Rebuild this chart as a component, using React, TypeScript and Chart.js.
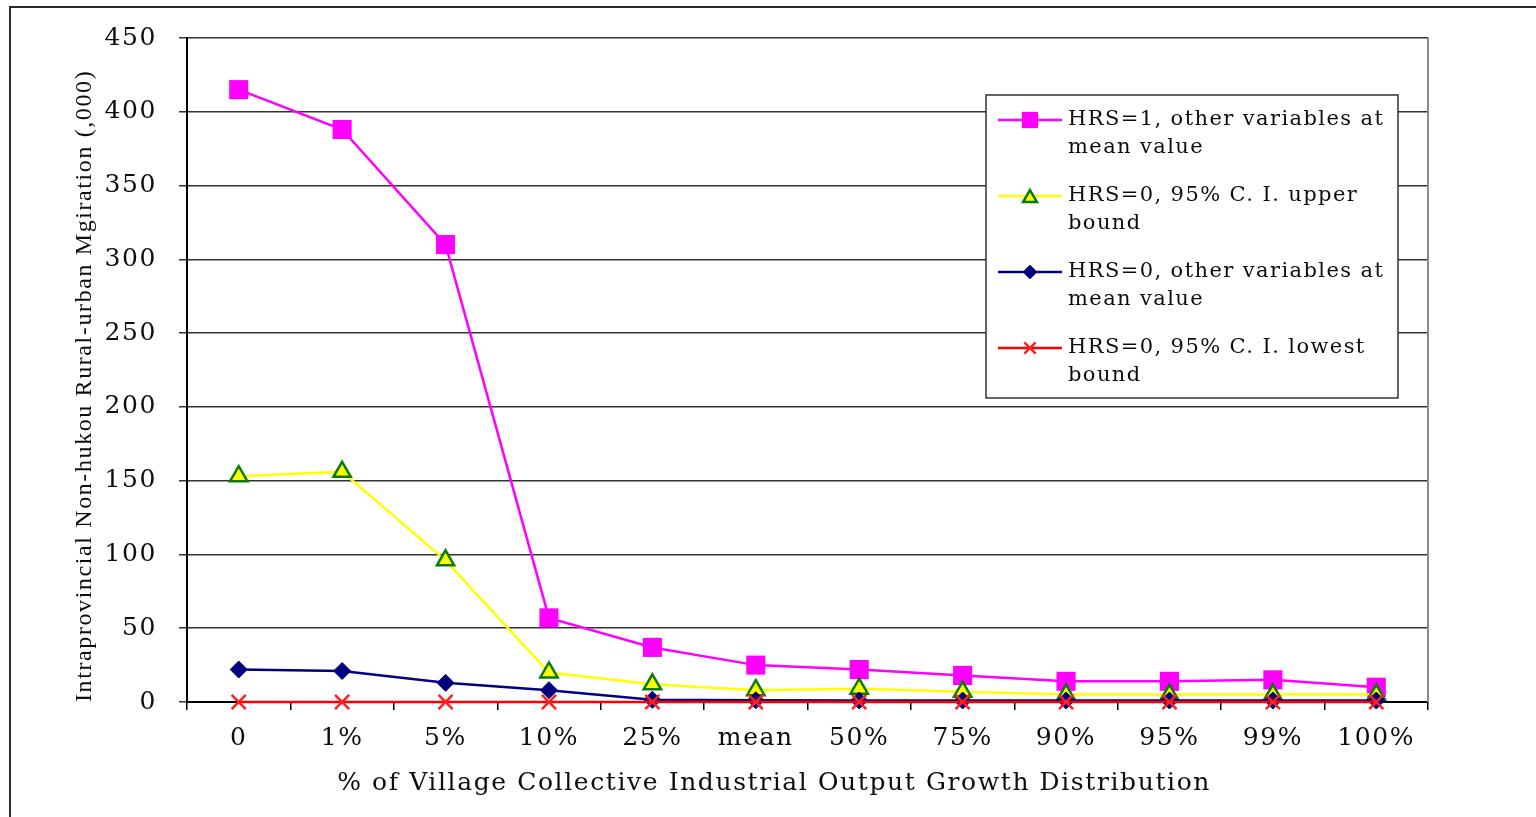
import React, { useEffect, useRef } from 'react';
import { Chart, registerables } from 'chart.js';

Chart.register(...registerables);

const categories = ['0', '1%', '5%', '10%', '25%', 'mean', '50%', '75%', '90%', '95%', '99%', '100%'];
const hrs1Mean = [415, 388, 310, 57, 37, 25, 22, 18, 14, 14, 15, 10];
const hrs0Upper = [153, 156, 96, 20, 12, 8, 9, 7, 5, 5, 5, 5];
const hrs0Mean = [22, 21, 13, 8, 1.5, 1.2, 1, 1, 1, 1, 1, 1];
const hrs0Lowest = [0, 0, 0, 0, 0, 0, 0, 0, 0, 0, 0, 0];
const yMin = 0;
const yMax = 450;
const yStep = 50;

const legendLabels = [
  ['HRS=1, other variables at', 'mean value'],
  ['HRS=0, 95% C. I. upper', 'bound'],
  ['HRS=0, other variables at', 'mean value'],
  ['HRS=0, 95% C. I. lowest', 'bound'],
];

const xTitle = '% of Village Collective Industrial Output Growth Distribution';
const yTitle = 'Intraprovincial Non-hukou Rural-urban Mgiration (,000)';

const SERIF_WIDE = "'DejaVu Serif', serif";
const SERIF = "'Liberation Serif', serif";
const TEXT = '#0d0d0d';

function drawMarker(ctx: CanvasRenderingContext2D, ds: any, x: number, y: number) {
  const style = ds.pointStyle;
  const r = ds.pointRadius;
  ctx.save();
  ctx.fillStyle = ds.pointBackgroundColor;
  ctx.strokeStyle = ds.pointBorderColor;
  ctx.lineWidth = ds.pointBorderWidth;
  ctx.beginPath();
  if (style === 'rect') {
    const s = Math.SQRT1_2 * r;
    ctx.rect(x - s, y - s, 2 * s, 2 * s);
    ctx.fill();
  } else if (style === 'triangle') {
    for (let i = 0; i < 3; i++) {
      const a = -Math.PI / 2 + (i * 2 * Math.PI) / 3;
      const px = x + Math.cos(a) * r;
      const py = y + Math.sin(a) * r + r * 0.25;
      if (i === 0) ctx.moveTo(px, py);
      else ctx.lineTo(px, py);
    }
    ctx.closePath();
    ctx.fill();
    ctx.stroke();
  } else if (style === 'rectRot') {
    ctx.moveTo(x, y - r);
    ctx.lineTo(x + r, y);
    ctx.lineTo(x, y + r);
    ctx.lineTo(x - r, y);
    ctx.closePath();
    ctx.fill();
    ctx.stroke();
  } else if (style === 'crossRot') {
    const s = Math.SQRT1_2 * r;
    ctx.moveTo(x - s, y - s);
    ctx.lineTo(x + s, y + s);
    ctx.moveTo(x + s, y - s);
    ctx.lineTo(x - s, y + s);
    ctx.stroke();
  }
  ctx.restore();
}

const framePlugin = {
  id: 'frameAndLegend',
  beforeDraw(chart: any) {
    (chart.ctx as any).letterSpacing = '1.6px';
  },
  afterDraw(chart: any) {
    const { ctx, chartArea } = chart;
    ctx.save();
    // right plot border
    ctx.strokeStyle = '#8a8a8a';
    ctx.lineWidth = 2;
    ctx.beginPath();
    ctx.moveTo(chartArea.right, chartArea.top);
    ctx.lineTo(chartArea.right, chartArea.bottom);
    ctx.stroke();

    // legend box
    const bx = 986, by = 95, bw = 412, bh = 303;
    ctx.fillStyle = '#ffffff';
    ctx.fillRect(bx, by, bw, bh);
    ctx.strokeStyle = '#333333';
    ctx.lineWidth = 1.5;
    ctx.strokeRect(bx, by, bw, bh);

    const datasets = chart.data.datasets;
    ctx.font = `21px ${SERIF_WIDE}`;
    (ctx as any).letterSpacing = '1.4px';
    ctx.textBaseline = 'middle';
    ctx.textAlign = 'left';
    legendLabels.forEach((lines, i) => {
      const ds = datasets[i];
      const cy = 120 + i * 76;
      ctx.strokeStyle = ds.borderColor;
      ctx.lineWidth = 2.5;
      ctx.beginPath();
      ctx.moveTo(998, cy);
      ctx.lineTo(1062, cy);
      ctx.stroke();
      const scaleR = ds.pointStyle === 'rect' ? 0.85 : 0.8;
      drawMarker(ctx, { ...ds, pointRadius: ds.pointRadius * scaleR }, 1030, cy);
      ctx.fillStyle = TEXT;
      lines.forEach((t, j) => {
        ctx.fillText(t, 1068, cy + j * 28);
      });
    });
    ctx.restore();
  },
};

export default function App() {
  const canvasRef = useRef<HTMLCanvasElement | null>(null);

  useEffect(() => {
    if (!canvasRef.current) return;
    const chart = new Chart(canvasRef.current, {
      type: 'line',
      data: {
        labels: categories,
        datasets: [
          {
            label: legendLabels[0].join(' '),
            data: hrs1Mean,
            borderColor: '#ff00ff',
            backgroundColor: '#ff00ff',
            borderWidth: 2.5,
            pointStyle: 'rect',
            pointRadius: 13.5,
            pointBackgroundColor: '#ff00ff',
            pointBorderColor: '#ff00ff',
            pointBorderWidth: 0,
            tension: 0,
            clip: 12,
            order: 4,
          },
          {
            label: legendLabels[1].join(' '),
            data: hrs0Upper,
            borderColor: '#ffff00',
            backgroundColor: '#ffff00',
            borderWidth: 2.5,
            pointStyle: 'triangle',
            pointRadius: 10,
            pointBackgroundColor: '#ffff00',
            pointBorderColor: '#0b7a0b',
            pointBorderWidth: 2.5,
            tension: 0,
            clip: 12,
            order: 3,
          },
          {
            label: legendLabels[2].join(' '),
            data: hrs0Mean,
            borderColor: '#000080',
            backgroundColor: '#000080',
            borderWidth: 2.5,
            pointStyle: 'rectRot',
            pointRadius: 8.5,
            pointBackgroundColor: '#000080',
            pointBorderColor: '#000080',
            pointBorderWidth: 1,
            tension: 0,
            clip: 12,
            order: 2,
          },
          {
            label: legendLabels[3].join(' '),
            data: hrs0Lowest,
            borderColor: '#ff0000',
            backgroundColor: '#ff0000',
            borderWidth: 2.5,
            pointStyle: 'crossRot',
            pointRadius: 10,
            pointBackgroundColor: '#ff0000',
            pointBorderColor: '#ff2020',
            pointBorderWidth: 2.5,
            tension: 0,
            clip: 12,
            order: 1,
          },
        ],
      },
      options: {
        animation: false,
        responsive: true,
        maintainAspectRatio: false,
        devicePixelRatio: 1,
        layout: { padding: { left: 0, top: 38, right: 108, bottom: 0 } },
        plugins: {
          legend: { display: false },
          tooltip: { enabled: false },
        },
        scales: {
          x: {
            type: 'category',
            offset: true,
            grid: {
              offset: true,
              drawOnChartArea: false,
              drawTicks: true,
              tickLength: 8,
              color: '#000000',
              lineWidth: 1.5,
            },
            border: { color: '#000000', width: 2 },
            ticks: {
              color: TEXT,
              font: { family: SERIF_WIDE, size: 25 },
              padding: 13,
              maxRotation: 0,
              autoSkip: false,
            },
            title: {
              display: true,
              text: xTitle + '\u00A0'.repeat(7),
              color: TEXT,
              font: { family: SERIF_WIDE, size: 25 },
              padding: { top: 0, bottom: 19 },
            },
            afterFit: (scale: any) => {
              scale.height = 115;
            },
          },
          y: {
            min: yMin,
            max: yMax,
            grid: {
              color: '#333333',
              lineWidth: 1.5,
              drawTicks: true,
              tickLength: 8,
            },
            border: { color: '#000000', width: 2 },
            ticks: {
              stepSize: yStep,
              color: TEXT,
              font: { family: SERIF_WIDE, size: 25 },
              padding: 22,
            },
            title: {
              display: true,
              text: yTitle,
              align: 'start',
              color: TEXT,
              font: { family: SERIF, size: 24 },
              padding: { top: 70, bottom: 0 },
            },
            afterFit: (scale: any) => {
              scale.width = 187;
            },
          },
        },
      },
      plugins: [framePlugin],
    });
    return () => chart.destroy();
  }, []);

  return (
    <div style={{ position: 'absolute', left: 0, top: 0, width: 1536, height: 817, background: '#ffffff' }}>
      <div
        style={{
          position: 'absolute',
          left: 9,
          top: 6,
          right: 0,
          bottom: 0,
          borderTop: '2px solid #2a2a2a',
          borderLeft: '2px solid #2a2a2a',
          boxSizing: 'border-box',
        }}
      />
      <canvas ref={canvasRef} style={{ position: 'absolute', left: 0, top: 0, width: 1536, height: 817 }} />
    </div>
  );
}
